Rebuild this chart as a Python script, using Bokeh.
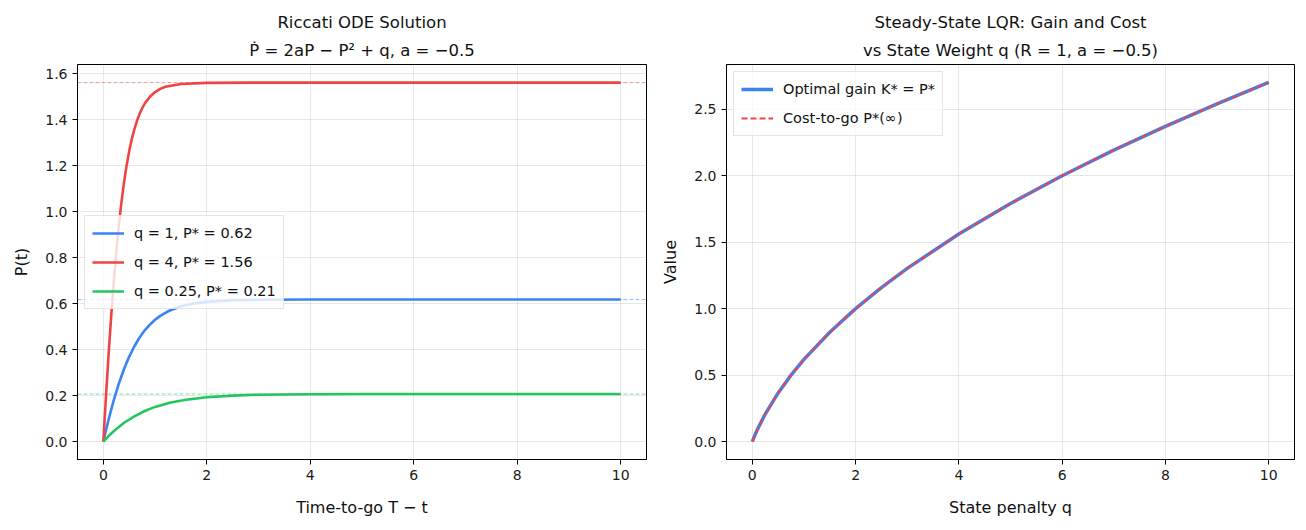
from bokeh.plotting import figure
from bokeh.layouts import row
from bokeh.models import (Title, Span, FixedTicker, PrintfTickFormatter, Legend,
                          LegendItem, Range1d)
from bokeh.embed import file_html
from bokeh.resources import INLINE

FONT = "DejaVu Sans"
BLUE = "#3b82f6"
RED = "#ef4444"
GREEN = "#22c55e"

# ---------------- data ----------------
# Left panel: Riccati ODE solutions P(t) vs time-to-go
t_q1 = [0, 0.05, 0.1, 0.2, 0.3, 0.4, 0.5, 0.6, 0.7, 0.8, 0.9, 1.0, 1.1, 1.25, 1.5, 1.75, 2.0, 2.5, 3.0, 4.0, 10.0]
P_q1 = [0, 0.049, 0.095, 0.179, 0.253, 0.316, 0.370, 0.415, 0.453, 0.484, 0.509, 0.530, 0.547, 0.567, 0.589,
        0.601, 0.608, 0.615, 0.617, 0.618, 0.618]

t_q4 = [0, 0.05, 0.1, 0.15, 0.2, 0.25, 0.3, 0.35, 0.4, 0.45, 0.5, 0.55, 0.6, 0.65, 0.7, 0.75, 0.8, 0.9, 1.0,
        1.1, 1.2, 1.5, 2.0, 3.0, 10.0]
P_q4 = [0, 0.195, 0.376, 0.542, 0.692, 0.825, 0.942, 1.043, 1.129, 1.203, 1.265, 1.317, 1.360, 1.396, 1.426,
        1.451, 1.471, 1.501, 1.521, 1.535, 1.544, 1.556, 1.561, 1.562, 1.562]

t_q025 = [0, 0.1, 0.2, 0.4, 0.6, 0.8, 1.0, 1.2, 1.3, 1.6, 2.0, 2.5, 3.0, 4.0, 5.0, 10.0]
P_q025 = [0, 0.024, 0.045, 0.082, 0.110, 0.133, 0.151, 0.164, 0.170, 0.182, 0.193, 0.200, 0.204, 0.206, 0.207, 0.207]

Pstar = [0.618, 1.562, 0.207]
labels_left = ["q = 1, P* = 0.62", "q = 4, P* = 1.56", "q = 0.25, P* = 0.21"]

x_ticks_left = [0, 2, 4, 6, 8, 10]
y_ticks_left = [0.0, 0.2, 0.4, 0.6, 0.8, 1.0, 1.2, 1.4, 1.6]

# Right panel: steady-state gain and cost vs q
q_vals = [0, 0.02, 0.05, 0.1, 0.25, 0.5, 0.75, 1.0, 1.5, 2.0, 2.5, 3.0, 4.0, 5.0, 6.0, 7.0, 8.0, 9.0, 10.0]
K_gain = [0, 0.0196, 0.0477, 0.0916, 0.207, 0.366, 0.500, 0.618, 0.823, 1.000, 1.158, 1.303, 1.562, 1.791,
          2.000, 2.193, 2.372, 2.541, 2.702]
P_cost = [0, 0.0196, 0.0477, 0.0916, 0.207, 0.366, 0.500, 0.618, 0.823, 1.000, 1.158, 1.303, 1.562, 1.791,
          2.000, 2.193, 2.372, 2.541, 2.702]

x_ticks_right = [0, 2, 4, 6, 8, 10]
y_ticks_right = [0.0, 0.5, 1.0, 1.5, 2.0, 2.5]


def style(p, xticks, yticks, xlabel, ylabel):
    p.outline_line_color = "black"
    p.outline_line_width = 1
    p.background_fill_color = "white"
    p.border_fill_color = "white"
    for ax in (p.xaxis[0], p.yaxis[0]):
        ax.axis_line_color = "black"
        ax.major_tick_line_color = "black"
        ax.major_tick_out = 5
        ax.major_tick_in = 0
        ax.minor_tick_line_color = None
        ax.major_label_text_font = FONT
        ax.major_label_text_font_size = "14px"
        ax.major_label_text_color = "#1a1a1a"
        ax.axis_label_text_font = FONT
        ax.axis_label_text_font_size = "16px"
        ax.axis_label_text_font_style = "normal"
        ax.axis_label_text_color = "#111111"
    p.xaxis[0].ticker = FixedTicker(ticks=xticks)
    p.yaxis[0].ticker = FixedTicker(ticks=yticks)
    p.yaxis[0].formatter = PrintfTickFormatter(format="%.1f")
    p.xaxis[0].axis_label = xlabel
    p.yaxis[0].axis_label = ylabel
    p.xaxis[0].axis_label_standoff = 15
    p.yaxis[0].axis_label_standoff = 11
    p.grid.grid_line_color = "#b0b0b0"
    p.grid.grid_line_alpha = 0.3
    p.grid.grid_line_width = 1


def add_titles(p, line1, line2):
    p.add_layout(Title(text=line2, align="center", text_font=FONT, text_font_size="16.5px",
                       text_font_style="normal", text_color="#111111", standoff=9), "above")
    p.add_layout(Title(text=line1, align="center", text_font=FONT, text_font_size="16.5px",
                       text_font_style="normal", text_color="#111111", standoff=5), "above")


# ---------------- left figure ----------------
p1 = figure(width=658, height=522, output_backend="svg", toolbar_location=None,
            x_range=Range1d(-0.5, 10.5), y_range=Range1d(-0.078, 1.641),
            min_border_left=77, min_border_right=12, min_border_top=64, min_border_bottom=63)
style(p1, x_ticks_left, y_ticks_left, "Time-to-go T − t", "P(t)")
add_titles(p1, "Riccati ODE Solution", "Ṗ = 2aP − P² + q, a = −0.5")

colors = [BLUE, RED, GREEN]
for val, c in zip(Pstar, colors):
    p1.add_layout(Span(location=val, dimension="width", line_color=c, line_alpha=0.55,
                       line_width=1, line_dash="4 2", level="underlay"))

r1 = p1.line(t_q1, P_q1, line_color=BLUE, line_width=2.6)
r2 = p1.line(t_q4, P_q4, line_color=RED, line_width=2.6)
r3 = p1.line(t_q025, P_q025, line_color=GREEN, line_width=2.6)

leg1 = Legend(items=[LegendItem(label=labels_left[0], renderers=[r1]),
                     LegendItem(label=labels_left[1], renderers=[r2]),
                     LegendItem(label=labels_left[2], renderers=[r3])],
              location="left")
p1.add_layout(leg1)

# ---------------- right figure ----------------
p2 = figure(width=640, height=522, output_backend="svg", toolbar_location=None,
            x_range=Range1d(-0.5, 10.5), y_range=Range1d(-0.135, 2.837),
            min_border_left=68, min_border_right=4, min_border_top=64, min_border_bottom=63)
style(p2, x_ticks_right, y_ticks_right, "State penalty q", "Value")
add_titles(p2, "Steady-State LQR: Gain and Cost", "vs State Weight q (R = 1, a = −0.5)")

g1 = p2.line(q_vals, K_gain, line_color=BLUE, line_width=3.5)
g2 = p2.line(q_vals, P_cost, line_color=RED, line_width=2, line_dash="6 3")

leg2 = Legend(items=[LegendItem(label="Optimal gain K* = P*", renderers=[g1]),
                     LegendItem(label="Cost-to-go P*(∞)", renderers=[g2])],
              location="top_left")
p2.add_layout(leg2)

for lg in (leg1, leg2):
    lg.label_text_font = FONT
    lg.label_text_font_size = "14.5px"
    lg.label_text_color = "#111111"
    lg.glyph_width = 32
    lg.glyph_height = 20
    lg.label_height = 20
    lg.spacing = 9
    lg.padding = 7
    lg.margin = 7
    lg.label_standoff = 10
    lg.border_line_color = "#cccccc"
    lg.border_line_width = 1
    lg.background_fill_color = "white"
    lg.background_fill_alpha = 0.8

layout = row(p1, p2)
open("out.html", "w").write(file_html(layout, INLINE))
